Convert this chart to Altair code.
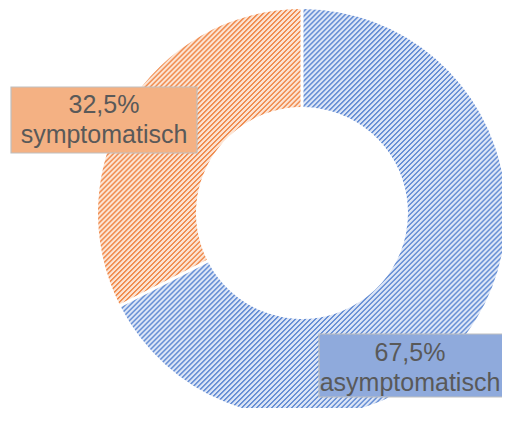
import math
import altair as alt
import pandas as pd

# ---- data ----
categories = ["asymptomatisch", "symptomatisch"]
shares = [67.5, 32.5]
stack_order = [0, 1]

df = pd.DataFrame({"category": categories, "share": shares, "order": stack_order})
df["label"] = [f"{v:.1f}".replace(".", ",") + "%\n" + c for c, v in zip(categories, shares)]

# ---- geometry / style ----
W, H = 494, 400
CX, CY = 294, 205
R_OUT, R_IN = 204, 106
PAD = 0.013


def slice_bbox(a0, a1, r_in, r_out, steps=400):
    xs, ys = [], []
    for i in range(steps + 1):
        a = a0 + (a1 - a0) * i / steps
        for r in (r_in, r_out):
            xs.append(r * math.sin(a))
            ys.append(-r * math.cos(a))
    return max(xs) - min(xs), max(ys) - min(ys)


def hatch(dark, light, w, h, period=5.0):
    c = (w + h) / (w * w + h * h)
    n = int(round((w + h) / period))
    stops = []
    for k in range(n):
        b = k / n
        stops += [
            {"offset": b, "color": dark},
            {"offset": b + 0.25 / n, "color": dark},
            {"offset": b + 0.45 / n, "color": light},
            {"offset": b + 0.85 / n, "color": light},
        ]
    stops.append({"offset": 1.0, "color": dark})
    return {"gradient": "linear", "x1": 0, "y1": 0, "x2": w * c, "y2": h * c, "stops": stops}


total = sum(shares)
angles = []
acc = 0.0
for s in shares:
    a0 = acc / total * 2 * math.pi
    acc += s
    a1 = acc / total * 2 * math.pi
    angles.append((a0, a1))

wb, hb = slice_bbox(*angles[0], R_IN, R_OUT)
wo, ho = slice_bbox(*angles[1], R_IN, R_OUT)
blue_grad = hatch("#6890D5", "#DCE5F6", wb, hb)
orange_grad = hatch("#F08E52", "#FCE3D2", wo, ho)

base = alt.Chart(df)

donut = base.mark_arc(innerRadius=R_IN, outerRadius=R_OUT, padAngle=PAD).encode(
    theta=alt.Theta("share:Q", stack=True),
    order=alt.Order("order:Q"),
    x=alt.value(CX),
    y=alt.value(CY),
    fill=alt.condition(alt.datum.category == "asymptomatisch", alt.value(blue_grad), alt.value(orange_grad)),
)

text_style = dict(lineBreak="\n", fontSize=25, font="Liberation Sans", color="#595959",
                  align="center", baseline="middle", lineHeight=30)

box_sym = base.transform_filter(alt.datum.category == "symptomatisch").mark_rect(
    fill="#F4B183", stroke="#BFBFBF", strokeWidth=1.2
).encode(x=alt.value(3), x2=alt.value(189), y=alt.value(79), y2=alt.value(145))
txt_sym = base.transform_filter(alt.datum.category == "symptomatisch").mark_text(**text_style).encode(
    text="label:N", x=alt.value(96), y=alt.value(97)
)

box_asy = base.transform_filter(alt.datum.category == "asymptomatisch").mark_rect(
    fill="#8FAADC", stroke="#BFBFBF", strokeWidth=1.2
).encode(x=alt.value(311), x2=alt.value(515), y=alt.value(326), y2=alt.value(389))
txt_asy = base.transform_filter(alt.datum.category == "asymptomatisch").mark_text(**text_style).encode(
    text="label:N", x=alt.value(402), y=alt.value(345)
)

chart = alt.layer(donut, box_sym, txt_sym, box_asy, txt_asy).properties(
    width=W, height=H, autosize=alt.AutoSizeParams(type="none"), padding=0, background="white"
).configure_view(stroke=None)

chart.save("out.html", embed_options={"renderer": "svg", "actions": False})
